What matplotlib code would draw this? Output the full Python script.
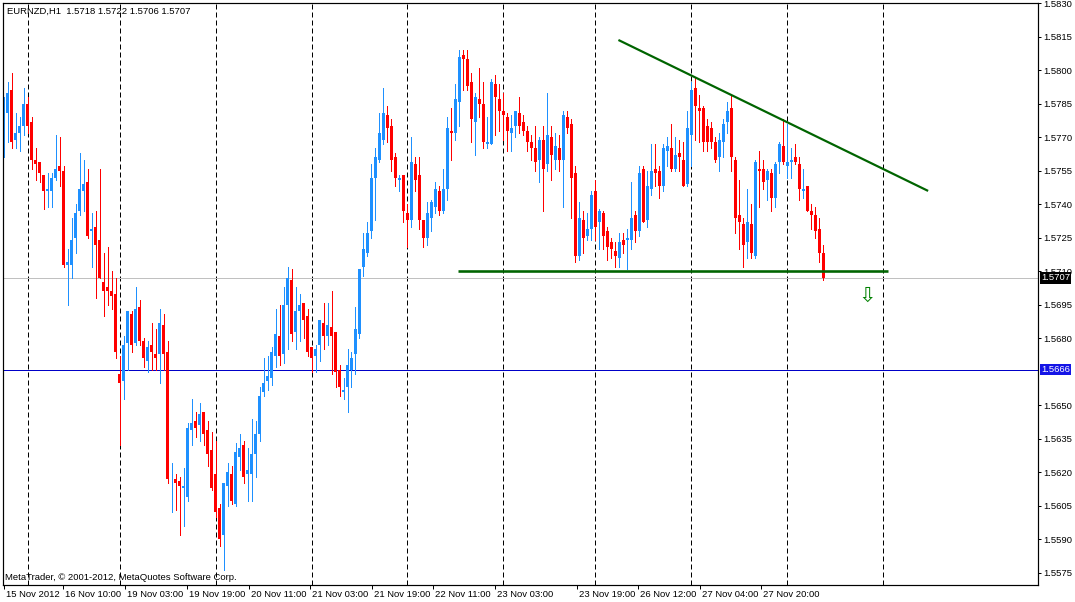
import matplotlib
matplotlib.use("Agg")
import matplotlib.pyplot as plt
from matplotlib.transforms import ScaledTranslation, blended_transform_factory

# ---------------- data (EURNZD H1 candles) ----------------
opens = [1.5773, 1.5781, 1.5791, 1.5769, 1.5772, 1.5775, 1.5785, 1.5777, 1.5760, 1.5759,
         1.5753, 1.5746, 1.5746, 1.5752, 1.5757, 1.5755, 1.5713, 1.5713, 1.5725, 1.5737,
         1.5746, 1.5750, 1.5728, 1.5730, 1.5724, 1.5705, 1.5703, 1.5701, 1.5700, 1.5664,
         1.5661, 1.5678, 1.5691, 1.5678, 1.5694, 1.5679, 1.5670, 1.5677, 1.5673, 1.5673,
         1.5686, 1.5674, 1.5616, 1.5617, 1.5616, 1.5613, 1.5609, 1.5639, 1.5643, 1.5641,
         1.5647, 1.5639, 1.5630, 1.5619, 1.5604, 1.5592, 1.5614, 1.5619, 1.5606, 1.5627,
         1.5632, 1.5619, 1.5619, 1.5628, 1.5637, 1.5656, 1.5661, 1.5662, 1.5672, 1.5681,
         1.5673, 1.5695, 1.5706, 1.5683, 1.5692, 1.5696, 1.5690, 1.5676, 1.5672, 1.5677,
         1.5687, 1.5681, 1.5685, 1.5683, 1.5666, 1.5656, 1.5658, 1.5666, 1.5673, 1.5682,
         1.5712, 1.5718, 1.5728, 1.5752, 1.5760, 1.5769, 1.5780, 1.5775, 1.5761, 1.5751,
         1.5753, 1.5736, 1.5733, 1.5758, 1.5753, 1.5733, 1.5725, 1.5734, 1.5739, 1.5746,
         1.5737, 1.5747, 1.5773, 1.5772, 1.5786, 1.5807, 1.5805, 1.5795, 1.5777, 1.5787,
         1.5785, 1.5767, 1.5767, 1.5794, 1.5787, 1.5782, 1.5779, 1.5772, 1.5775, 1.5781,
         1.5777, 1.5773, 1.5768, 1.5765, 1.5760, 1.5769, 1.5758, 1.5770, 1.5760, 1.5765,
         1.5760, 1.5779, 1.5776, 1.5754, 1.5717, 1.5733, 1.5726, 1.5729, 1.5746, 1.5732,
         1.5736, 1.5728, 1.5723, 1.5719, 1.5716, 1.5724, 1.5724, 1.5724, 1.5735, 1.5728,
         1.5756, 1.5733, 1.5747, 1.5756, 1.5755, 1.5748, 1.5764, 1.5765, 1.5756, 1.5763,
         1.5760, 1.5749, 1.5771, 1.5792, 1.5783, 1.5783, 1.5775, 1.5774, 1.5768, 1.5761,
         1.5768, 1.5777, 1.5783, 1.5760, 1.5735, 1.5731, 1.5723, 1.5731, 1.5717, 1.5756,
         1.5756, 1.5751, 1.5754, 1.5743, 1.5759, 1.5766, 1.5757, 1.5759, 1.5761, 1.5758,
         1.5746, 1.5748, 1.5737, 1.5735, 1.5729, 1.5718]
highs = [1.5788, 1.5795, 1.5799, 1.5781, 1.5779, 1.5792, 1.5788, 1.5779, 1.5765, 1.5759,
         1.5753, 1.5754, 1.5754, 1.5771, 1.5770, 1.5757, 1.5720, 1.5734, 1.5740, 1.5763,
         1.5760, 1.5756, 1.5736, 1.5737, 1.5756, 1.5718, 1.5721, 1.5710, 1.5707, 1.5672,
         1.5681, 1.5692, 1.5692, 1.5703, 1.5697, 1.5680, 1.5679, 1.5687, 1.5684, 1.5693,
         1.5691, 1.5679, 1.5624, 1.5619, 1.5618, 1.5622, 1.5642, 1.5653, 1.5647, 1.5651,
         1.5647, 1.5643, 1.5638, 1.5634, 1.5606, 1.5615, 1.5624, 1.5623, 1.5633, 1.5637,
         1.5634, 1.5631, 1.5644, 1.5643, 1.5658, 1.5671, 1.5672, 1.5676, 1.5693, 1.5695,
         1.5703, 1.5712, 1.5711, 1.5703, 1.5700, 1.5696, 1.5693, 1.5676, 1.5677, 1.5688,
         1.5696, 1.5696, 1.5701, 1.5683, 1.5668, 1.5662, 1.5675, 1.5674, 1.5694, 1.5711,
         1.5727, 1.5732, 1.5758, 1.5765, 1.5781, 1.5792, 1.5784, 1.5778, 1.5763, 1.5753,
         1.5753, 1.5740, 1.5770, 1.5761, 1.5761, 1.5733, 1.5741, 1.5742, 1.5750, 1.5748,
         1.5756, 1.5779, 1.5783, 1.5794, 1.5809, 1.5809, 1.5809, 1.5799, 1.5790, 1.5801,
         1.5795, 1.5779, 1.5796, 1.5798, 1.5794, 1.5790, 1.5781, 1.5780, 1.5782, 1.5788,
         1.5780, 1.5775, 1.5771, 1.5775, 1.5770, 1.5775, 1.5790, 1.5775, 1.5772, 1.5771,
         1.5782, 1.5782, 1.5778, 1.5757, 1.5741, 1.5737, 1.5736, 1.5746, 1.5751, 1.5738,
         1.5737, 1.5730, 1.5725, 1.5723, 1.5727, 1.5727, 1.5729, 1.5750, 1.5737, 1.5757,
         1.5757, 1.5755, 1.5767, 1.5767, 1.5757, 1.5767, 1.5770, 1.5776, 1.5770, 1.5769,
         1.5768, 1.5782, 1.5795, 1.5797, 1.5789, 1.5784, 1.5778, 1.5777, 1.5770, 1.5772,
         1.5778, 1.5786, 1.5789, 1.5761, 1.5751, 1.5734, 1.5747, 1.5740, 1.5760, 1.5764,
         1.5760, 1.5756, 1.5756, 1.5759, 1.5768, 1.5778, 1.5776, 1.5765, 1.5767, 1.5761,
         1.5756, 1.5748, 1.5740, 1.5739, 1.5734, 1.5722]
lows = [1.5761, 1.5768, 1.5765, 1.5765, 1.5764, 1.5771, 1.5772, 1.5756, 1.5751, 1.5750,
        1.5738, 1.5739, 1.5739, 1.5751, 1.5748, 1.5712, 1.5695, 1.5707, 1.5718, 1.5735,
        1.5737, 1.5725, 1.5712, 1.5698, 1.5707, 1.5690, 1.5695, 1.5693, 1.5671, 1.5632,
        1.5653, 1.5666, 1.5674, 1.5677, 1.5677, 1.5667, 1.5665, 1.5666, 1.5666, 1.5660,
        1.5666, 1.5615, 1.5602, 1.5603, 1.5592, 1.5596, 1.5607, 1.5632, 1.5636, 1.5634,
        1.5632, 1.5623, 1.5612, 1.5600, 1.5587, 1.5576, 1.5605, 1.5606, 1.5605, 1.5621,
        1.5615, 1.5607, 1.5607, 1.5618, 1.5634, 1.5654, 1.5657, 1.5659, 1.5667, 1.5668,
        1.5669, 1.5675, 1.5679, 1.5675, 1.5679, 1.5680, 1.5672, 1.5665, 1.5665, 1.5670,
        1.5675, 1.5677, 1.5664, 1.5658, 1.5654, 1.5653, 1.5647, 1.5658, 1.5664, 1.5680,
        1.5708, 1.5717, 1.5725, 1.5733, 1.5759, 1.5767, 1.5768, 1.5755, 1.5748, 1.5746,
        1.5732, 1.5721, 1.5730, 1.5746, 1.5729, 1.5721, 1.5722, 1.5728, 1.5736, 1.5735,
        1.5736, 1.5742, 1.5760, 1.5769, 1.5775, 1.5791, 1.5791, 1.5768, 1.5762, 1.5779,
        1.5765, 1.5765, 1.5767, 1.5771, 1.5773, 1.5769, 1.5764, 1.5764, 1.5770, 1.5772,
        1.5771, 1.5764, 1.5760, 1.5755, 1.5750, 1.5737, 1.5755, 1.5751, 1.5756, 1.5755,
        1.5739, 1.5772, 1.5734, 1.5714, 1.5715, 1.5718, 1.5724, 1.5724, 1.5724, 1.5720,
        1.5720, 1.5715, 1.5716, 1.5712, 1.5712, 1.5718, 1.5711, 1.5720, 1.5723, 1.5726,
        1.5732, 1.5730, 1.5744, 1.5748, 1.5743, 1.5746, 1.5757, 1.5755, 1.5755, 1.5755,
        1.5748, 1.5748, 1.5757, 1.5769, 1.5768, 1.5764, 1.5764, 1.5765, 1.5759, 1.5755,
        1.5761, 1.5772, 1.5755, 1.5727, 1.5720, 1.5712, 1.5716, 1.5716, 1.5716, 1.5739,
        1.5747, 1.5742, 1.5737, 1.5739, 1.5754, 1.5758, 1.5752, 1.5752, 1.5758, 1.5742,
        1.5743, 1.5737, 1.5729, 1.5725, 1.5714, 1.5706]
closes = [1.5783, 1.5790, 1.5768, 1.5772, 1.5775, 1.5785, 1.5775, 1.5760, 1.5758, 1.5754,
          1.5746, 1.5747, 1.5752, 1.5756, 1.5755, 1.5713, 1.5714, 1.5724, 1.5736, 1.5747,
          1.5749, 1.5726, 1.5729, 1.5722, 1.5707, 1.5701, 1.5701, 1.5699, 1.5674, 1.5660,
          1.5677, 1.5692, 1.5677, 1.5693, 1.5679, 1.5671, 1.5676, 1.5674, 1.5671, 1.5687,
          1.5673, 1.5617, 1.5616, 1.5615, 1.5614, 1.5614, 1.5640, 1.5642, 1.5640, 1.5646,
          1.5637, 1.5628, 1.5613, 1.5602, 1.5590, 1.5615, 1.5620, 1.5607, 1.5629, 1.5631,
          1.5618, 1.5621, 1.5628, 1.5637, 1.5654, 1.5660, 1.5663, 1.5674, 1.5682, 1.5672,
          1.5695, 1.5707, 1.5682, 1.5692, 1.5695, 1.5688, 1.5674, 1.5671, 1.5675, 1.5688,
          1.5681, 1.5686, 1.5681, 1.5665, 1.5658, 1.5657, 1.5668, 1.5671, 1.5684, 1.5711,
          1.5720, 1.5727, 1.5752, 1.5761, 1.5772, 1.5781, 1.5774, 1.5760, 1.5752, 1.5752,
          1.5737, 1.5733, 1.5759, 1.5751, 1.5733, 1.5725, 1.5736, 1.5741, 1.5747, 1.5737,
          1.5747, 1.5774, 1.5772, 1.5787, 1.5806, 1.5805, 1.5793, 1.5778, 1.5788, 1.5785,
          1.5768, 1.5768, 1.5795, 1.5788, 1.5782, 1.5780, 1.5773, 1.5774, 1.5782, 1.5775,
          1.5773, 1.5768, 1.5765, 1.5759, 1.5769, 1.5756, 1.5771, 1.5762, 1.5766, 1.5760,
          1.5780, 1.5774, 1.5752, 1.5717, 1.5734, 1.5725, 1.5729, 1.5744, 1.5730, 1.5737,
          1.5726, 1.5721, 1.5720, 1.5717, 1.5723, 1.5722, 1.5725, 1.5734, 1.5728, 1.5754,
          1.5732, 1.5748, 1.5755, 1.5754, 1.5748, 1.5765, 1.5766, 1.5756, 1.5762, 1.5761,
          1.5748, 1.5774, 1.5791, 1.5784, 1.5782, 1.5768, 1.5768, 1.5768, 1.5760, 1.5769,
          1.5776, 1.5782, 1.5761, 1.5734, 1.5732, 1.5722, 1.5732, 1.5718, 1.5759, 1.5755,
          1.5750, 1.5755, 1.5743, 1.5758, 1.5767, 1.5759, 1.5759, 1.5760, 1.5759, 1.5747,
          1.5747, 1.5737, 1.5735, 1.5728, 1.5718, 1.5707]

title_text = "EURNZD,H1  1.5718 1.5722 1.5706 1.5707"
footer_text = "MetaTrader, \u00a9 2001-2012, MetaQuotes Software Corp."
price_ticks = [1.5575, 1.5590, 1.5605, 1.5620, 1.5635, 1.5650, 1.5680, 1.5695,
               1.5710, 1.5725, 1.5740, 1.5755, 1.5770, 1.5785, 1.5800, 1.5815, 1.5830]
time_labels = ["15 Nov 2012", "16 Nov 10:00", "19 Nov 03:00", "19 Nov 19:00",
               "20 Nov 11:00", "21 Nov 03:00", "21 Nov 19:00", "22 Nov 11:00",
               "23 Nov 03:00", "23 Nov 19:00", "26 Nov 12:00", "27 Nov 04:00",
               "27 Nov 20:00"]
time_label_bars = [0, 14.75, 30.25, 45.85, 61.25, 76.7, 92.1, 107.5, 122.9,
                   143.35, 158.75, 174.2, 189.4]
day_separator_bars = [6, 29, 53, 77, 101, 125, 148, 172, 196, 220]
bid_price = 1.5707
level_price = 1.5666
support_price = 1.5710
support_bars = [113.75, 221.1]
trend_bars = [153.75, 231.2]
trend_prices = [1.58136, 1.5746]
arrow_bar, arrow_price = 215.85, 1.5699

# ---------------- figure ----------------
W, H, DPI = 1075, 602, 100
fig = plt.figure(figsize=(W / DPI, H / DPI), dpi=DPI, facecolor="white")
ax = fig.add_axes([3 / W, 1 - 585 / H, (1037.7 - 3) / W, (585 - 2.7) / H])
ax.set_facecolor("white")
ax.set_xlim(-0.15, 258.6)
ax.set_ylim(1.55695, 1.58303)

FONT = "Liberation Sans"
FS = 6.8
px = 72.0 / DPI  # one pixel in points

bull, bear = "#1E90FF", "#FF0000"
xs = list(range(len(opens)))
colors = [bull if c >= o else bear for o, c in zip(opens, closes)]

# day separators
for b in day_separator_bars:
    ax.axvline(b, color="black", lw=px, ls=(0, (5, 3)), zorder=1)

# horizontal lines
ax.axhline(bid_price, color="#C0C0C0", lw=px, zorder=1.5)
ax.axhline(level_price, color="#0000C8", lw=px, zorder=1.5)

# candles
ax.vlines(xs, lows, highs, colors=colors, lw=px, zorder=2, antialiased=False)
bottoms = [min(o, c) for o, c in zip(opens, closes)]
heights = [max(abs(c - o), 0.00003) for o, c in zip(opens, closes)]
ax.bar(xs, heights, bottom=bottoms, width=0.82, color=colors, linewidth=0,
       zorder=2.1, antialiased=False)

# trend lines
ax.plot(support_bars, [support_price, support_price], color="#006400", lw=2.6 * px,
        zorder=3, solid_capstyle="butt")
ax.plot(trend_bars, trend_prices, color="#006400", lw=2.2 * px, zorder=3,
        solid_capstyle="butt")
ax.text(arrow_bar, arrow_price, "\u21e9", color="#008000", fontsize=15,
        family="DejaVu Sans", ha="center", va="center", zorder=3)

# spines
for s in ax.spines.values():
    s.set_color("black")
    s.set_linewidth(1.2 * px)

# y axis on the right
ax.yaxis.tick_right()
ax.set_yticks(price_ticks)
ax.set_yticklabels([f"{p:.4f}" for p in price_ticks])
ax.tick_params(axis="y", direction="out", length=2.5, width=px, pad=1.5,
               labelsize=FS, colors="black")
for lab in ax.get_yticklabels():
    lab.set_family(FONT)

# x axis labels
ax.set_xticks(time_label_bars)
ax.set_xticklabels(time_labels)
ax.tick_params(axis="x", direction="out", length=3, width=px, pad=0.8,
               labelsize=FS, colors="black")
offset = ScaledTranslation(2 / DPI, 0, fig.dpi_scale_trans)
for lab in ax.get_xticklabels():
    lab.set_family(FONT)
    lab.set_ha("left")
    lab.set_transform(lab.get_transform() + offset)

# price boxes on the right axis
trans = blended_transform_factory(ax.transAxes, ax.transData)
for price, fc in [(bid_price, "black"), (level_price, "#1414E6")]:
    ax.text(1.0 + 3.5 / (1037.7 - 3), price, f"{price:.4f}", transform=trans,
            ha="left", va="center", fontsize=FS, family=FONT, color="white",
            bbox=dict(boxstyle="square,pad=0.12", fc=fc, ec="none"),
            zorder=5, clip_on=False)

# texts
fig.text(6.7 / W, 1 - 11 / H, title_text, fontsize=FS, family=FONT,
         ha="left", va="center", color="black")
fig.text(4.7 / W, 1 - 577 / H, footer_text, fontsize=FS, family=FONT,
         ha="left", va="center", color="black")

fig.savefig("out.png", dpi=DPI, facecolor="white")
